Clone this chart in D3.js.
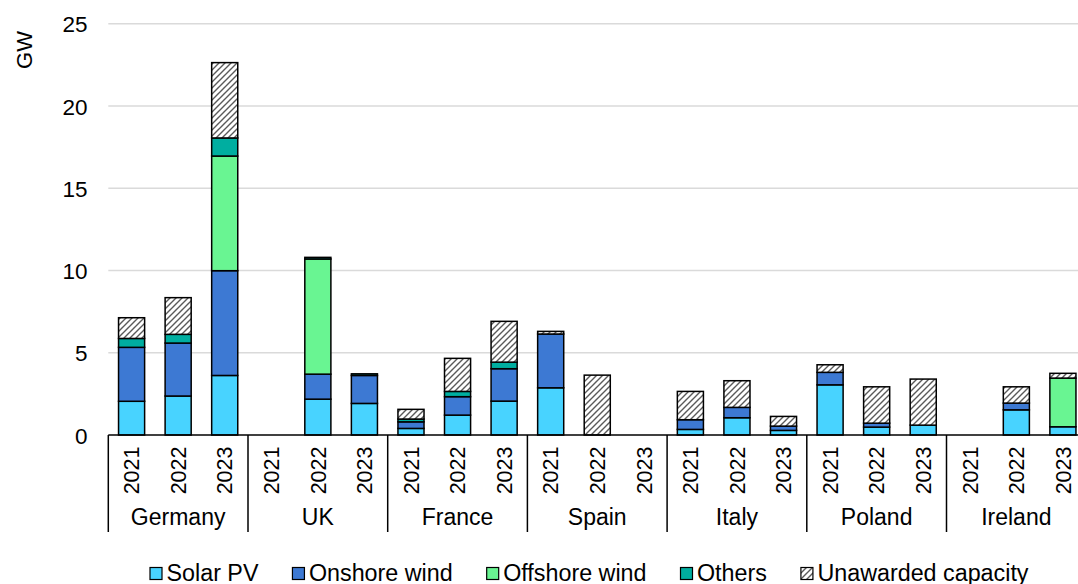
<!DOCTYPE html>
<html>
<head>
<meta charset="utf-8">
<script src="https://cdn.jsdelivr.net/npm/d3@7"></script>
<style>
  html, body { margin: 0; padding: 0; background: #fff; }
  svg { display: block; font-family: "Liberation Sans", Arial, sans-serif; }
</style>
</head>
<body>
<svg id="chart" width="1078" height="584"></svg>
<script>
// ---- Data ----
const countries = ["Germany", "UK", "France", "Spain", "Italy", "Poland", "Ireland"];
const years = ["2021", "2022", "2023"];
const seriesNames = ["Solar PV", "Onshore wind", "Offshore wind", "Others", "Unawarded capacity"];
// values per bar, ordered country by country, 2021/2022/2023
const solarPV = [2.05, 2.37, 3.62, 0, 2.18, 1.92, 0.40, 1.21, 2.06, 2.87, 0, 0, 0.34, 1.05, 0.28, 3.05, 0.48, 0.60, 0, 1.53, 0.50];
const onshoreWind = [3.28, 3.22, 6.37, 0, 1.52, 1.70, 0.40, 1.12, 1.97, 3.27, 0, 0, 0.59, 0.63, 0.26, 0.76, 0.24, 0, 0, 0.41, 0];
const offshoreWind = [0, 0, 6.97, 0, 7.00, 0, 0, 0, 0, 0, 0, 0, 0, 0, 0, 0, 0, 0, 0, 0, 2.96];
const others = [0.54, 0.53, 1.10, 0, 0.10, 0.10, 0.17, 0.32, 0.40, 0, 0, 0, 0, 0, 0, 0, 0, 0, 0, 0, 0];
const unawarded = [1.26, 2.23, 4.58, 0, 0, 0, 0.59, 2.01, 2.48, 0.16, 3.64, 0, 1.72, 1.62, 0.59, 0.46, 2.21, 2.80, 0, 0.99, 0.29];
const yTicks = [0, 5, 10, 15, 20, 25];
const yLabel = "GW";

// ---- Styles ----
const colors = ["#48D3FF", "#3D79D3", "#69F592", "#00AEA0", "url(#hatch)"];

// ---- Build table ----
const seriesValues = [solarPV, onshoreWind, offshoreWind, others, unawarded];
const bars = [];
countries.forEach((c, ci) => years.forEach((y, yi) => {
  const i = ci * 3 + yi;
  const row = { key: c + "|" + y, country: c, year: y };
  seriesNames.forEach((s, si) => row[s] = seriesValues[si][i]);
  bars.push(row);
}));

const svg = d3.select("#chart");
const defs = svg.append("defs");
const pat = defs.append("pattern").attr("id", "hatch")
  .attr("patternUnits", "userSpaceOnUse").attr("width", 6).attr("height", 6);
pat.append("rect").attr("width", 6).attr("height", 6).attr("fill", "#fff");
pat.append("path").attr("d", "M-1,1 L1,-1 M0,6 L6,0 M5,7 L7,5")
  .attr("stroke", "#5a5a5a").attr("stroke-width", 1.4);

const x0 = 108.3, x1 = 1086.2;
const y = d3.scaleLinear().domain([0, 25]).range([435, 23.8]);
const x = d3.scaleBand().domain(bars.map(d => d.key)).range([x0, x1])
  .paddingInner(0.44).paddingOuter(0.22);
const xGroup = d3.scaleBand().domain(countries).range([x0, x1]);

// gridlines
svg.append("g").selectAll("line").data(yTicks.filter(t => t > 0)).join("line")
  .attr("x1", x0).attr("x2", 1078).attr("y1", d => y(d)).attr("y2", d => y(d))
  .attr("stroke", "#DADADA").attr("stroke-width", 1.6);

// y axis labels
const yAxis = d3.axisLeft(y).tickValues(yTicks).tickSize(0).tickPadding(0);
const gy = svg.append("g").attr("transform", "translate(87.5,0)").call(yAxis);
gy.select(".domain").remove();
gy.selectAll("text").attr("font-size", 22.5).attr("fill", "#000")
  .attr("font-family", "Liberation Sans, Arial, sans-serif").attr("dy", "0.36em");

svg.append("text").attr("transform", "translate(24,50) rotate(-90)")
  .attr("text-anchor", "middle").attr("dy", "0.36em")
  .attr("font-size", 22).text(yLabel);

// stacked bars
const stack = d3.stack().keys(seriesNames);
const stacked = stack(bars);
svg.append("g").selectAll("g").data(stacked).join("g")
  .attr("fill", (d, i) => colors[i])
  .selectAll("rect").data(d => d.filter(p => p[1] - p[0] > 0)).join("rect")
  .attr("x", d => x(d.data.key)).attr("width", x.bandwidth())
  .attr("y", d => y(d[1])).attr("height", d => y(d[0]) - y(d[1]))
  .attr("stroke", "#000").attr("stroke-width", 1.5);

// x axis line
svg.append("line").attr("x1", x0).attr("x2", 1078).attr("y1", y(0)).attr("y2", y(0))
  .attr("stroke", "#000").attr("stroke-width", 1.6);

// group separators
const seps = countries.map(c => xGroup(c)).concat([x1]);
svg.append("g").selectAll("line").data(seps).join("line")
  .attr("x1", d => d).attr("x2", d => d).attr("y1", y(0)).attr("y2", 532)
  .attr("stroke", "#000").attr("stroke-width", 1.5);

// year labels
svg.append("g").selectAll("text").data(bars).join("text")
  .attr("transform", d => `translate(${x(d.key) + x.bandwidth() / 2},446.5) rotate(-90)`)
  .attr("text-anchor", "end").attr("dy", "0.36em")
  .attr("font-size", 21.5).text(d => d.year);

// country labels
svg.append("g").selectAll("text").data(countries).join("text")
  .attr("x", d => xGroup(d) + xGroup.bandwidth() / 2).attr("y", 524.5)
  .attr("text-anchor", "middle").attr("font-size", 23).text(d => d);

// legend
const lg = svg.append("g");
let lx = 150;
seriesNames.forEach((s, i) => {
  lg.append("rect").attr("x", lx).attr("y", 567.5).attr("width", 12).attr("height", 12)
    .attr("fill", colors[i]).attr("stroke", "#000").attr("stroke-width", 1.2);
  const t = lg.append("text").attr("x", lx + 16.5).attr("y", 580.5)
    .attr("font-size", 23.3).text(s);
  lx += 16.5 + t.node().getComputedTextLength() + 34;
});
</script>
</body>
</html>
